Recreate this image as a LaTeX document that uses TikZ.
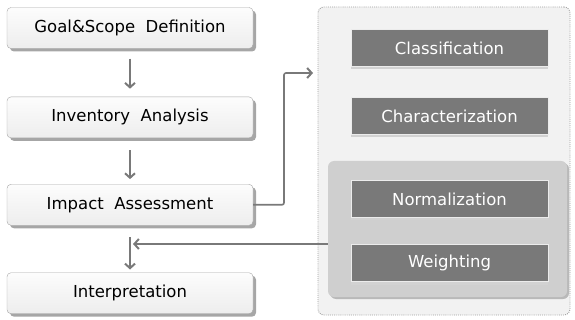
\documentclass[tikz,border=0pt]{standalone}
\usepackage{fontspec}
\setmainfont{DejaVu Sans}
\usetikzlibrary{arrows.meta}
\usetikzlibrary{positioning}
\usetikzlibrary{shadows}

\begin{document}
\begin{tikzpicture}[
    x=1pt, y=-1pt,
    node distance=48pt,
    stage/.style={
        draw=gray!70, rounded corners=4pt,
        top color=gray!2, bottom color=gray!14,
        minimum width=246pt, minimum height=41pt,
        font=\fontsize{16.5}{19}\selectfont,
        drop shadow={shadow xshift=3pt, shadow yshift=-3pt, fill=gray!70, opacity=1}
    },
    substep/.style={
        draw=white!85!gray, line width=1pt, fill=gray!95!black,
        text=white, minimum width=197pt, minimum height=37pt,
        font=\fontsize{16.5}{19}\selectfont,
        drop shadow={shadow xshift=0pt, shadow yshift=-3pt, fill=gray!35, opacity=1}
    },
    link/.style={draw=gray!95!black, line width=1.6pt,
        -{Straight Barb[length=4.5pt,width=10pt,line width=2pt]}}
]
\useasboundingbox (0,0) rectangle (575,320);

% right-hand panel
\node[draw=gray!75, line width=0.9pt, dash pattern=on 0.9pt off 1.2pt,
      rounded corners=6pt, fill=gray!10,
      minimum width=252pt, minimum height=308pt] (panel) at (444,161) {};
\node[rounded corners=6pt, fill=gray!38,
      drop shadow={shadow xshift=2pt, shadow yshift=-2pt, fill=gray!55, opacity=1},
      minimum width=239pt, minimum height=136pt] (inner) at (447.5,229) {};

\node[substep] (classif) at (449.5,48) {Classification};
\node[substep, below=30pt of classif] (charact) {Characterization};
\node[substep, below=45pt of charact] (normal) {Normalization};
\node[substep, below=26pt of normal] (weight) {Weighting};

% left-hand stages
\node[stage] (goal) at (130,28) {Goal\&Scope\ \ Definition};
\node[stage, below=of goal] (inventory) {Inventory\ \ Analysis};
\node[stage, below=46pt of inventory] (impact) {Impact\ \ Assessment};
\node[stage, below=47pt of impact] (interp) {Interpretation};

\coordinate (bend) at (284,73);
\coordinate (entry) at (313,73);
\coordinate (back) at (133,244);

\draw[link, shorten <=10pt, shorten >=8pt] (goal) -- (inventory);
\draw[link, shorten <=12pt, shorten >=5pt] (inventory) -- (impact);
\draw[link, shorten <=12pt, shorten >=3pt] (impact) -- (interp);
\draw[link, rounded corners=2pt] (impact.east) -| (bend) -- (entry);
\draw[link] (inner.west |- back) -- (back);
\end{tikzpicture}
\end{document}
